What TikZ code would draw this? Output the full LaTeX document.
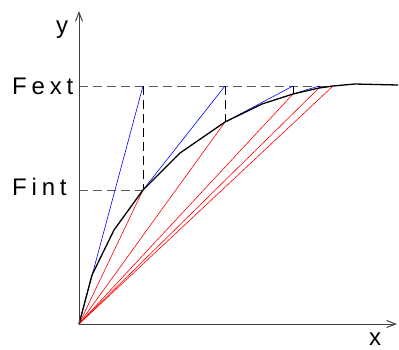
\documentclass[tikz,border=0pt]{standalone}
\usepackage{fontspec}
\setmainfont{Liberation Sans}
\usetikzlibrary{arrows.meta}

\begin{document}
\begin{tikzpicture}[
        x=1pt, y=-1pt,
        axis/.style={draw=black!75, line width=1pt, -{Straight Barb[length=9pt,width=7pt]}},
        curve/.style={draw=black, line width=1.3pt, line join=round},
        guide/.style={draw=black!65, line width=1pt, dash pattern=on 9pt off 5pt},
        drop/.style={draw=black, line width=0.9pt, dash pattern=on 9pt off 5pt},
        tick/.style={draw=black, line width=0.7pt},
        secant/.style={draw=red, line width=0.6pt},
        tangent/.style={draw=blue, line width=0.6pt},
        lbl/.style={font=\fontsize{24}{24}\selectfont\addfontfeatures{LetterSpace=20}, inner sep=0pt, anchor=base west},
        axlbl/.style={font=\fontsize{24}{24}\selectfont, inner sep=0pt, anchor=base}
    ]
        \useasboundingbox (0,0) rectangle (399,349);

        % axes
        \coordinate (o) at (79,324);
        \coordinate (ytop) at (79,11);
        \coordinate (xend) at (397,324);
        \coordinate (fe) at (79,86);
        \coordinate (fi) at (79,190);

        % points on the curve
        \coordinate (c1) at (92,275);
        \coordinate (c2) at (114,230);
        \coordinate (c3) at (143,190);
        \coordinate (c4) at (180,153);
        \coordinate (c5) at (225,122);
        \coordinate (c6) at (262,104);
        \coordinate (c7) at (293,94);
        \coordinate (c8) at (319,88);
        \coordinate (c9) at (333,86);
        \coordinate (c10) at (355,84);
        \coordinate (c11) at (398,85);

        % points on the Fext level
        \coordinate (e1) at (143,86);
        \coordinate (e2) at (225,86);
        \coordinate (e3) at (293,86);
        \coordinate (e4) at (319,86);
        \coordinate (e5) at (333,86);

        \node[lbl] (fext) at (12,94) {Fext};
        \node[lbl] (fint) at (12,195) {Fint};
        \node[axlbl] (ylab) at (62,33) {y};
        \node[axlbl] (xlab) at (375,345) {x};

        \draw[guide] (fe) -- (e5);
        \draw[guide] (fi) -- (c3);
        \draw[drop] (e1) -- (c3);
        \draw[drop] (e2) -- (c5);
        \draw[tick] (e3) -- (c7);
        \draw[tick] (e4) -- (c8);

        \foreach \p in {c3,c5,c7,c8,c9}
            \draw[secant] (o) -- (\p);

        \draw[tangent] (o) -- (e1);
        \draw[tangent] (c3) -- (e2);
        \draw[tangent] (c5) -- (e3);
        \draw[tangent] (c7) -- (e4);
        \draw[tangent] (c8) -- (e5);

        \draw[curve] (o) -- (c1) -- (c2) -- (c3) -- (c4) -- (c5) -- (c6)
            -- (c7) -- (c8) -- (c9) -- (c10) -- (c11);

        \draw[axis] (o) -- (ytop);
        \draw[axis] (o) -- (xend);
    \end{tikzpicture}
\end{document}
